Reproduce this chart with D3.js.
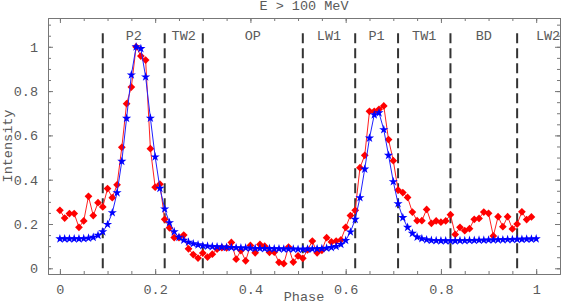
<!DOCTYPE html>
<html>
<head>
<meta charset="utf-8">
<script src="https://cdn.jsdelivr.net/npm/d3@7"></script>
<style>
    body { margin: 0; background: #fff; }
    text { font-family: "Liberation Mono", "DejaVu Sans Mono", monospace; fill: #5a5a5a; }
</style>
</head>
<body>
<div class="chart"></div>
<script>
// observed light curve (red), phase 0.00 .. 0.99
var observed = [0.262, 0.227, 0.247, 0.247, 0.185, 0.214, 0.325, 0.238, 0.296, 0.277,
    0.360, 0.319, 0.377, 0.546, 0.743, 0.818, 1.000, 0.958, 0.940, 0.540,
    0.366, 0.380, 0.221, 0.183, 0.139, 0.138, 0.150, 0.088, 0.062, 0.046,
    0.069, 0.051, 0.064, 0.087, 0.093, 0.092, 0.117, 0.041, 0.080, 0.034,
    0.103, 0.070, 0.108, 0.100, 0.072, 0.073, 0.027, 0.021, 0.096, 0.028,
    0.056, 0.045, 0.083, 0.123, 0.070, 0.081, 0.138, 0.119, 0.123, 0.128,
    0.185, 0.238, 0.262, 0.454, 0.510, 0.709, 0.709, 0.718, 0.733, 0.581,
    0.486, 0.353, 0.342, 0.320, 0.254, 0.215, 0.215, 0.266, 0.203, 0.214,
    0.208, 0.214, 0.242, 0.153, 0.185, 0.170, 0.179, 0.221, 0.225, 0.254,
    0.248, 0.146, 0.233, 0.188, 0.233, 0.178, 0.200, 0.255, 0.220, 0.232];

// model light curve (blue), phase 0.00 .. 1.00
var model = [0.133, 0.133, 0.133, 0.133, 0.133, 0.134, 0.136, 0.140, 0.149, 0.165,
    0.198, 0.251, 0.341, 0.483, 0.677, 0.873, 1.000, 0.992, 0.864, 0.678,
    0.503, 0.361, 0.268, 0.206, 0.165, 0.140, 0.127, 0.118, 0.111, 0.106,
    0.102, 0.100, 0.098, 0.097, 0.096, 0.095, 0.094, 0.093, 0.092, 0.092,
    0.091, 0.090, 0.090, 0.089, 0.089, 0.088, 0.088, 0.087, 0.087, 0.087,
    0.086, 0.086, 0.087, 0.087, 0.088, 0.089, 0.091, 0.094, 0.099, 0.108,
    0.126, 0.164, 0.221, 0.319, 0.448, 0.588, 0.693, 0.702, 0.626, 0.510,
    0.391, 0.292, 0.229, 0.185, 0.158, 0.141, 0.134, 0.129, 0.126, 0.125,
    0.124, 0.124, 0.124, 0.124, 0.125, 0.125, 0.126, 0.126, 0.127, 0.127,
    0.128, 0.128, 0.129, 0.129, 0.130, 0.130, 0.131, 0.131, 0.132, 0.132,
    0.133];

var boundaries = [0.09, 0.22, 0.30, 0.51, 0.62, 0.71, 0.82, 0.96];
var regionNames = ['P2', 'TW2', 'OP', 'LW1', 'P1', 'TW1', 'BD', 'LW2'];
var regionCenters = [0.155, 0.26, 0.405, 0.565, 0.665, 0.765, 0.89, 1.025];

var xTicks = [0, 0.2, 0.4, 0.6, 0.8, 1];
var yTicks = [0, 0.2, 0.4, 0.6, 0.8, 1];

const margin = { top: 18, right: 1, bottom: 31, left: 48 },
    width = 561 - margin.left - margin.right,
    height = 305 - margin.top - margin.bottom;

let svg = d3.select('.chart')
    .append('svg')
    .attr('width', 561)
    .attr('height', 305);

let group = svg.append('g')
    .attr('transform', 'translate(' + margin.left + ',' + margin.top + ')');

let xScale = d3.scaleLinear()
    .domain([-0.025, 1.05])
    .range([0, width]);

let yScale = d3.scaleLinear()
    .domain([-0.0257, 1.13])
    .range([height, 0]);

let minorX = d3.range(0, 21).map(i => i * 0.05).concat([1.05]);
let minorY = d3.range(0, 23).map(i => i * 0.05);

// frame axes, ticks pointing inward
function frameAxis(axisFn, scale, ticks, size, labels) {
    return axisFn(scale)
        .tickValues(ticks)
        .tickSizeInner(-size)
        .tickSizeOuter(0)
        .tickPadding(labels ? 10 : 0)
        .tickFormat(labels ? d3.format('~g') : '');
}

let axes = [
    [d3.axisBottom, xScale, `translate(0,${height})`, true],
    [d3.axisTop, xScale, 'translate(0,0)', false],
    [d3.axisLeft, yScale, 'translate(0,0)', true],
    [d3.axisRight, yScale, `translate(${width},0)`, false]
];

axes.forEach(a => {
    let isX = a[1] === xScale;
    let g = group.append('g').attr('transform', a[2]);
    g.call(frameAxis(a[0], a[1], isX ? minorX : minorY, 3, false));
    g.append('g').call(frameAxis(a[0], a[1], isX ? xTicks : yTicks, 5, a[3]));
    g.selectAll('path, line').attr('stroke', '#777');
    g.selectAll('text')
        .style('font-size', '13.5px')
        .attr('fill', '#5a5a5a');
});

// region boundaries
group.selectAll('.boundary')
    .data(boundaries)
    .enter()
    .append('line')
    .attr('class', 'boundary')
    .attr('x1', d => xScale(d))
    .attr('x2', d => xScale(d))
    .attr('y1', yScale(0))
    .attr('y2', yScale(1.07))
    .attr('stroke', '#333')
    .attr('stroke-width', 2)
    .attr('stroke-dasharray', '10,5');

group.selectAll('.region')
    .data(regionNames)
    .enter()
    .append('text')
    .attr('class', 'region')
    .attr('x', (d, i) => xScale(regionCenters[i]))
    .attr('y', 22)
    .attr('text-anchor', 'middle')
    .style('font-size', '13.5px')
    .text(d => d);

// series
let obsData = observed.map((v, i) => ({ phase: i / 100, value: v }));
let modData = model.map((v, i) => ({ phase: i / 100, value: v }));

let line = d3.line()
    .x(d => xScale(d.phase))
    .y(d => yScale(d.value));

group.append('path')
    .datum(obsData)
    .attr('fill', 'none')
    .attr('stroke', '#ff2020')
    .attr('stroke-width', 1)
    .attr('d', line);

group.selectAll('.obs')
    .data(obsData)
    .enter()
    .append('path')
    .attr('class', 'obs')
    .attr('d', d3.symbol().type(d3.symbolSquare).size(30))
    .attr('transform', d => `translate(${xScale(d.phase)},${yScale(d.value)}) rotate(45)`)
    .attr('fill', '#ff0000');

group.append('path')
    .datum(modData)
    .attr('fill', 'none')
    .attr('stroke', '#2020ff')
    .attr('stroke-width', 1)
    .attr('d', line);

group.selectAll('.mod')
    .data(modData)
    .enter()
    .append('path')
    .attr('class', 'mod')
    .attr('d', d3.symbol().type(d3.symbolStar).size(26))
    .attr('transform', d => `translate(${xScale(d.phase)},${yScale(d.value)})`)
    .attr('fill', '#0000ff');

// titles
svg.append('text')
    .attr('x', margin.left + width / 2)
    .attr('y', 10)
    .attr('text-anchor', 'middle')
    .style('font-size', '13.5px')
    .text('E > 100 MeV');

svg.append('text')
    .attr('x', margin.left + width / 2)
    .attr('y', 301)
    .attr('text-anchor', 'middle')
    .style('font-size', '13.5px')
    .text('Phase');

svg.append('text')
    .attr('transform', `translate(12,${margin.top + height / 2}) rotate(-90)`)
    .attr('text-anchor', 'middle')
    .style('font-size', '13.5px')
    .text('Intensity');
</script>
</body>
</html>
